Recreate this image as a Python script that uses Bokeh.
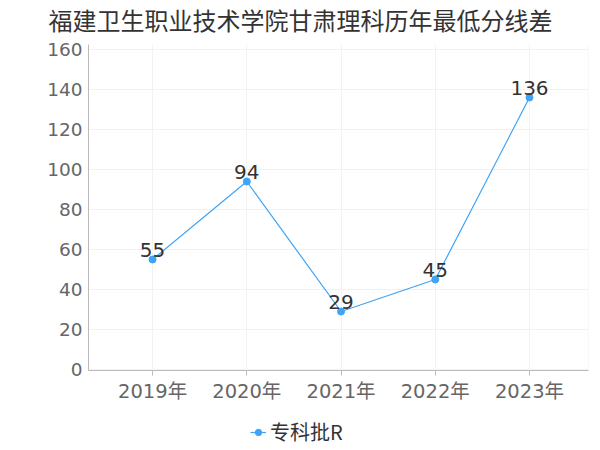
from bokeh.plotting import figure
from bokeh.layouts import column
from bokeh.models import (Range1d, FixedTicker, Title, Legend, LegendItem, Span,
                          ColumnDataSource)
from bokeh.embed import file_html
from bokeh.resources import INLINE
from bokeh.core.properties import value

title_text = "福建卫生职业技术学院甘肃理科历年最低分线差"
years = ["2019年", "2020年", "2021年", "2022年", "2023年"]
scores = [55, 94, 29, 45, 136]
series_name = "专科批R"
y_ticks = [0, 20, 40, 60, 80, 100, 120, 140, 160]

FONT = "DejaVu Sans, Noto Sans CJK SC"
CJK = "Noto Sans CJK SC, DejaVu Sans"
COLOR = "#3fa3f6"

xs = list(range(len(years)))
src = ColumnDataSource(dict(x=xs, y=scores, label=[str(v) for v in scores]))

# title strip
tf = figure(width=600, height=36, output_backend="svg", toolbar_location=None,
            x_range=Range1d(0, 1), y_range=Range1d(0, 1),
            x_axis_location=None, y_axis_location=None,
            min_border_left=88, min_border_right=12, min_border_top=33,
            min_border_bottom=0)
tf.title = None
tf.grid.visible = False
tf.outline_line_color = None
tf.add_layout(Title(text=title_text, align="left", offset=-40, text_font=CJK,
                    text_font_size="24px", text_color="#333333",
                    text_font_style="normal", vertical_align="bottom",
                    standoff=0), "above")

# main chart
p = figure(width=600, height=374, output_backend="svg", toolbar_location=None,
           x_range=Range1d(-0.68, 4.626), y_range=Range1d(-0.5, 162.5),
           min_border_left=88, min_border_right=12, min_border_top=8,
           min_border_bottom=40)
p.title = None
p.outline_line_color = None
p.background_fill_color = "white"

p.xaxis.ticker = FixedTicker(ticks=xs)
p.xaxis.major_label_overrides = {i: s for i, s in enumerate(years)}
p.xaxis.major_label_text_font = FONT
p.xaxis.major_label_text_font_size = "19.5px"
p.xaxis.major_label_text_color = "#666666"
p.xaxis.axis_line_color = "#bbbbbb"
p.xaxis.major_tick_line_color = "#bbbbbb"
p.xaxis.major_tick_out = 5
p.xaxis.major_tick_in = 0
p.xaxis.minor_tick_line_color = None
p.xaxis.major_label_standoff = 4

p.yaxis.ticker = FixedTicker(ticks=y_ticks)
p.yaxis.major_label_text_font = FONT
p.yaxis.major_label_text_font_size = "18.5px"
p.yaxis.major_label_text_color = "#666666"
p.yaxis.axis_line_color = "#bbbbbb"
p.yaxis.major_tick_line_color = None
p.yaxis.major_tick_out = 0
p.yaxis.major_tick_in = 0
p.yaxis.minor_tick_line_color = None
p.yaxis.major_label_standoff = 6

p.xgrid.ticker = FixedTicker(ticks=xs)
p.xgrid.grid_line_color = "#f2f2f2"
p.ygrid.grid_line_color = "#f2f2f2"
p.add_layout(Span(location=4.626, dimension="height", line_color="#f2f2f2", line_width=1))

line = p.line("x", "y", source=src, line_color=COLOR, line_width=1.2)
pts = p.scatter("x", "y", source=src, size=7, fill_color=COLOR, line_color=COLOR)
p.text("x", "y", text="label", source=src, text_align="center",
       text_baseline="bottom", y_offset=-3, text_font=value(FONT),
       text_font_size="20px", text_color="#333333")

# legend strip below the chart
lg = figure(width=600, height=40, output_backend="svg", toolbar_location=None,
            x_range=Range1d(0, 1), y_range=Range1d(0, 1),
            min_border_left=0, min_border_right=0, min_border_top=0,
            min_border_bottom=0)
lg.title = None
lg.axis.visible = False
lg.grid.visible = False
lg.outline_line_color = None
lg_line = lg.line("x", "y", source=src, line_color=COLOR, line_width=1.2, visible=False)
lg_pts = lg.scatter("x", "y", source=src, size=7, fill_color=COLOR,
                    line_color=COLOR, visible=False)
legend = Legend(items=[LegendItem(label=series_name, renderers=[lg_line, lg_pts])],
                location=(162, 4), orientation="horizontal",
                label_text_font=CJK, label_text_font_size="20px",
                label_text_color="#333333", glyph_width=16, label_standoff=4,
                padding=0, margin=0, border_line_color=None,
                background_fill_alpha=0, inactive_fill_alpha=0)
lg.add_layout(legend, "center")

layout = column(tf, p, lg, spacing=0)
open("out.html", "w").write(file_html(layout, INLINE))
